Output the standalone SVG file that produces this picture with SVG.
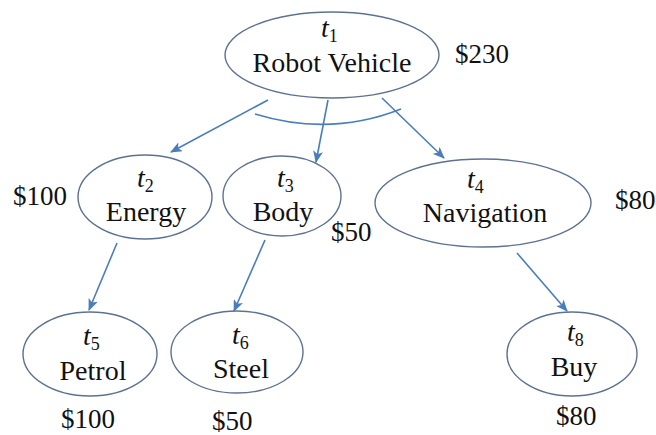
<svg xmlns="http://www.w3.org/2000/svg" width="656" height="435" viewBox="0 0 656 435">
<defs>
<style>
.shape{fill:#fff;stroke:#5d7290;stroke-width:1.4}
.edge{stroke:#4a7ebb;stroke-width:1.6;fill:none}
</style>
<marker id="arr" viewBox="0 0 12 10" refX="11" refY="5" markerWidth="12" markerHeight="10" markerUnits="userSpaceOnUse" orient="auto">
<path d="M0,0 L12,5 L0,10 L3,5 Z" fill="#4a7ebb"/>
</marker>
</defs>
<rect width="656" height="435" fill="#fff"/>
<g id="connectors">
<line class="edge" x1="268" y1="100" x2="171" y2="152" marker-end="url(#arr)"/>
<line class="edge" x1="328" y1="100" x2="316" y2="162" marker-end="url(#arr)"/>
<line class="edge" x1="382" y1="98" x2="444" y2="158" marker-end="url(#arr)"/>
<path class="edge" d="M255,114 Q330,137 401,109" stroke-width="1.4"/>
<line class="edge" x1="117" y1="243" x2="89" y2="310" marker-end="url(#arr)"/>
<line class="edge" x1="265" y1="240" x2="234" y2="311" marker-end="url(#arr)"/>
<line class="edge" x1="517" y1="253" x2="567" y2="311" marker-end="url(#arr)"/>
</g>
<g font-family="Liberation Serif" fill="#111" font-size="28">
<g id="t1">
<ellipse class="shape" cx="332" cy="55" rx="107" ry="43"/>
<text x="321" y="37" font-family="Liberation Serif" font-style="italic">t<tspan font-size="18" font-style="normal" dy="5">1</tspan></text>
<text x="332" y="72" font-family="Liberation Serif" text-anchor="middle">Robot Vehicle</text>
<text x="455" y="63" font-family="Liberation Serif" font-size="27">$230</text>
</g>
<g id="t2">
<ellipse class="shape" cx="145" cy="197" rx="67" ry="42"/>
<text x="137" y="187" font-family="Liberation Serif" font-style="italic">t<tspan font-size="18" font-style="normal" dy="5">2</tspan></text>
<text x="146" y="221" font-family="Liberation Serif" text-anchor="middle">Energy</text>
<text x="13" y="205" font-family="Liberation Serif" font-size="27">$100</text>
</g>
<g id="t3">
<ellipse class="shape" cx="282" cy="196" rx="59" ry="40"/>
<text x="277" y="187" font-family="Liberation Serif" font-style="italic">t<tspan font-size="18" font-style="normal" dy="5">3</tspan></text>
<text x="283" y="221" font-family="Liberation Serif" text-anchor="middle">Body</text>
<text x="331" y="241" font-family="Liberation Serif" font-size="27">$50</text>
</g>
<g id="t4">
<ellipse class="shape" cx="483" cy="203" rx="108" ry="44"/>
<text x="467" y="188" font-family="Liberation Serif" font-style="italic">t<tspan font-size="18" font-style="normal" dy="5">4</tspan></text>
<text x="485" y="222" font-family="Liberation Serif" text-anchor="middle">Navigation</text>
<text x="615" y="209" font-family="Liberation Serif" font-size="27">$80</text>
</g>
<g id="t5">
<ellipse class="shape" cx="90" cy="354" rx="67" ry="42"/>
<text x="83" y="345" font-family="Liberation Serif" font-style="italic">t<tspan font-size="18" font-style="normal" dy="5">5</tspan></text>
<text x="93" y="380" font-family="Liberation Serif" text-anchor="middle">Petrol</text>
<text x="61" y="428" font-family="Liberation Serif" font-size="27">$100</text>
</g>
<g id="t6">
<ellipse class="shape" cx="237" cy="352" rx="66" ry="41"/>
<text x="232" y="344" font-family="Liberation Serif" font-style="italic">t<tspan font-size="18" font-style="normal" dy="5">6</tspan></text>
<text x="241" y="378" font-family="Liberation Serif" text-anchor="middle">Steel</text>
<text x="212" y="430" font-family="Liberation Serif" font-size="27">$50</text>
</g>
<g id="t8">
<ellipse class="shape" cx="572" cy="354" rx="65" ry="42"/>
<text x="567" y="341" font-family="Liberation Serif" font-style="italic">t<tspan font-size="18" font-style="normal" dy="5">8</tspan></text>
<text x="574" y="376" font-family="Liberation Serif" text-anchor="middle">Buy</text>
<text x="556" y="425" font-family="Liberation Serif" font-size="27">$80</text>
</g>
</g>
</svg>
